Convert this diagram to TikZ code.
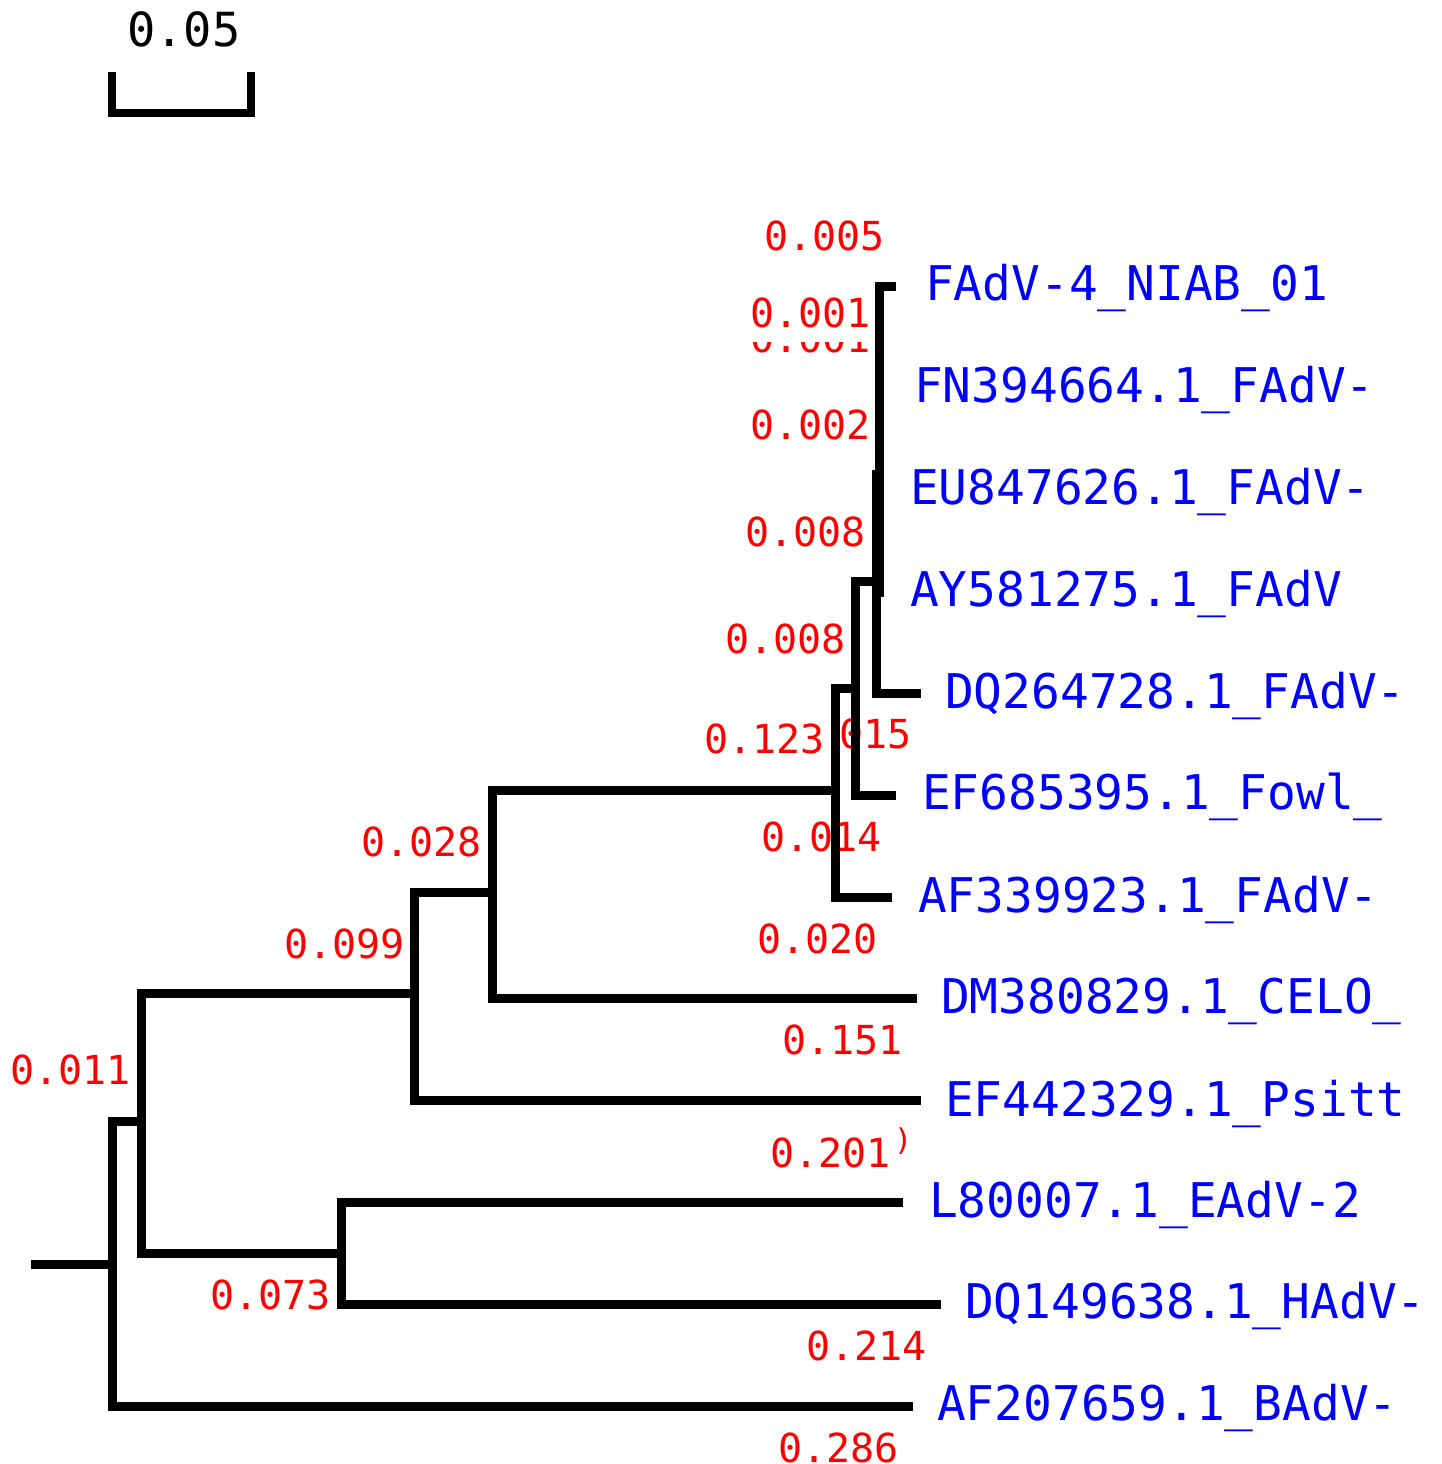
\documentclass[tikz,border=0pt]{standalone}
\usepackage{fontspec}
\newfontfamily\treemono{DejaVu Sans Mono}
\begin{document}
\begin{tikzpicture}[x=1pt,y=-1pt,
  branch/.style={line width=9pt, black, line join=miter},
  taxon/.style={anchor=base west, inner sep=0pt, text=blue,
    font=\treemono\fontsize{47.8}{52}\selectfont},
  blen/.style={anchor=base west, inner sep=0pt, text=red,
    font=\treemono\fontsize{40}{44}\selectfont},
  scalelabel/.style={anchor=base west, inner sep=0pt, text=black,
    font=\treemono\fontsize{47}{50}\selectfont},
]
\useasboundingbox (0,0) rectangle (1442,1464);
\fill[white] (0,0) rectangle (1442,1464);

% scale bar
\node[scalelabel] (scalelbl) at (127,47) {0.05};
\coordinate (sbA) at (112,72);
\coordinate (sbB) at (112,113);
\coordinate (sbC) at (251,113);
\coordinate (sbD) at (251,72);
\draw[line width=8pt, line join=miter] (sbA) -- (sbB) -- (sbC) -- (sbD);

% branch lengths
\node[blen] (b005) at (764,250) {0.005};
\begin{scope}
  \clip (740,342) rectangle (880,360);
  \node[blen] (b001b) at (750,352) {0.001};
\end{scope}
\node[blen] (b001) at (750,327) {0.001};
\node[blen] (b002) at (750,439) {0.002};
\node[blen] (b008a) at (745,546) {0.008};
\node[blen] (b008b) at (725,653) {0.008};
\begin{scope}
  \clip (835,700) rectangle (930,760);
  \node[blen] (b015) at (791,748) {0.015};
\end{scope}
\node[blen] (b123) at (704,753) {0.123};
\node[blen] (b014) at (761,851) {0.014};
\node[blen] (b020) at (757,953) {0.020};
\node[blen] (b028) at (361,856) {0.028};
\node[blen] (b099) at (284,958) {0.099};
\node[blen] (b011) at (10,1084) {0.011};
\node[blen] (b073) at (210,1309) {0.073};
\node[blen] (b151) at (782,1054) {0.151};
\node[blen] (b201) at (770,1167) {0.201};
\node[anchor=base west, inner sep=0pt, text=red,
  font=\treemono\fontsize{30}{32}\selectfont] (bparen) at (894,1150) {)};
\node[blen] (b214) at (806,1360) {0.214};
\node[blen] (b286) at (778,1462) {0.286};

% taxa
\node[taxon] (lFAdV4) at (925,300) {FAdV-4\_NIAB\_01};
\node[taxon] (lFN) at (914,402) {FN394664.1\_FAdV-};
\node[taxon] (lEU) at (910,504) {EU847626.1\_FAdV-};
\node[taxon] (lAY) at (910,606) {AY581275.1\_FAdV};
\node[taxon] (lDQa) at (945,708) {DQ264728.1\_FAdV-};
\node[taxon] (lEF6) at (922,809) {EF685395.1\_Fowl\_};
\node[taxon] (lAF3) at (918,912) {AF339923.1\_FAdV-};
\node[taxon] (lDM) at (941,1013) {DM380829.1\_CELO\_};
\node[taxon] (lEF4) at (945,1116) {EF442329.1\_Psitt};
\node[taxon] (lL8) at (929,1217) {L80007.1\_EAdV-2};
\node[taxon] (lDQb) at (965,1318) {DQ149638.1\_HAdV-};
\node[taxon] (lAF2) at (937,1420) {AF207659.1\_BAdV-};

% internal nodes
\coordinate (rootstub) at (31,1264);
\coordinate (n0) at (112,1264);
\coordinate (n1) at (141,1121);
\coordinate (n2) at (414,993);
\coordinate (n3) at (341,1253);
\coordinate (n4) at (492,892);
\coordinate (n5) at (835,790);
\coordinate (n6) at (855.5,688);
\coordinate (n7) at (876,581);
\coordinate (n8) at (879.5,474);

% tips
\coordinate (tAF2) at (913,1406);
\coordinate (tL8) at (903,1202);
\coordinate (tDQb) at (941,1304);
\coordinate (tEF4) at (921,1100);
\coordinate (tDM) at (917,998.5);
\coordinate (tAF3) at (892,897);
\coordinate (tEF6) at (896,795);
\coordinate (tDQa) at (921,693);
\coordinate (tFAdV4) at (896,286);
\coordinate (tAY) at (879.5,597);

% branches
\draw[branch] (rootstub) -- (n0);
\draw[branch] (n1) -| (n0) |- (tAF2);
\draw[branch] (n2) -| (n1) |- (n3);
\draw[branch] (tL8) -| (n3) |- (tDQb);
\draw[branch] (n4) -| (n2) |- (tEF4);
\draw[branch] (n5) -| (n4) |- (tDM);
\draw[branch] (n6) -| (n5) |- (tAF3);
\draw[branch] (n7) -| (n6) |- (tEF6);
\draw[branch] (n8) -| (n7) |- (tDQa);
\draw[branch] (tFAdV4) -| (n8) -- (tAY);
\end{tikzpicture}
\end{document}
